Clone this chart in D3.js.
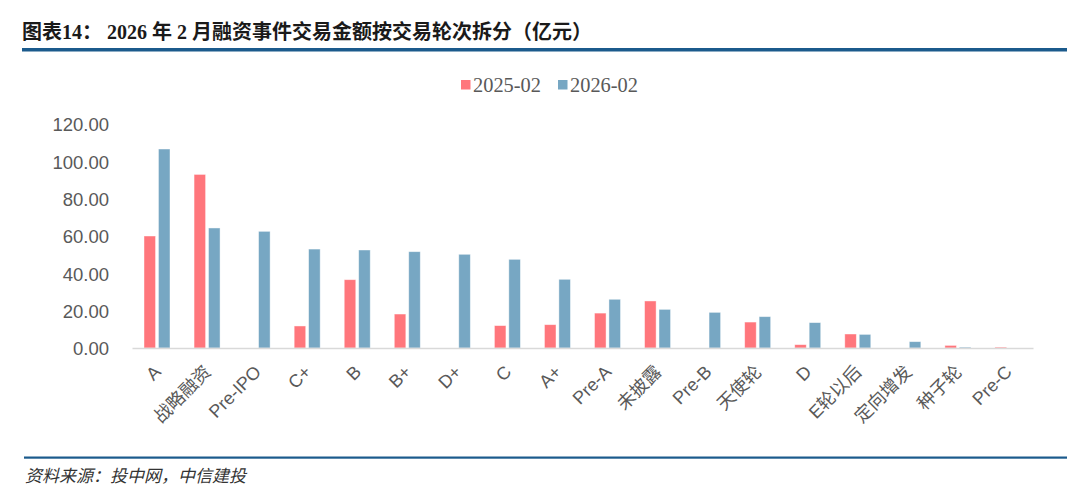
<!DOCTYPE html>
<html>
<head>
<meta charset="utf-8">
<script src="https://cdn.jsdelivr.net/npm/d3@7/dist/d3.min.js"></script>
<style>
  html, body { margin: 0; padding: 0; background: #fff; }
  svg { display: block; }
</style>
</head>
<body>
<svg id="chart" width="1080" height="489"></svg>
<script>
const titleText = "图表14： 2026 年 2 月融资事件交易金额按交易轮次拆分（亿元）";
const sourceText = "资料来源：投中网，中信建投";
const categories = ["A", "战略融资", "Pre-IPO", "C+", "B", "B+", "D+", "C", "A+", "Pre-A", "未披露", "Pre-B", "天使轮", "D", "E轮以后", "定向增发", "种子轮", "Pre-C"];
const seriesNames = ["2025-02", "2026-02"];
const values2025 = [60.0, 93.0, 0, 11.8, 36.6, 18.2, 0, 12.0, 12.5, 18.7, 25.2, 0, 13.9, 1.8, 7.5, 0, 1.4, 0.5];
const values2026 = [106.6, 64.3, 62.5, 53.0, 52.5, 51.6, 50.2, 47.5, 36.8, 26.1, 20.7, 19.1, 16.8, 13.6, 7.3, 3.4, 0.5, 0];
const yTicks = [0, 20, 40, 60, 80, 100, 120];
const colors = ["#FF767C", "#77A7C3"];

const svg = d3.select("#chart");

// Title
svg.append("text")
  .attr("x", 22).attr("y", 39)
  .attr("font-family", "'Liberation Serif', 'Noto Sans CJK SC', serif")
  .attr("font-weight", "bold")
  .attr("font-size", 20)
  .attr("fill", "#1a1a1a")
  .text(titleText);

svg.append("rect").attr("x", 22).attr("y", 48).attr("width", 1045).attr("height", 3.5).attr("fill", "#1B5A8C");
svg.append("rect").attr("x", 24).attr("y", 456.5).attr("width", 1043).attr("height", 2.2).attr("fill", "#1B5A8C");

svg.append("text")
  .attr("x", 25).attr("y", 482)
  .attr("font-family", "'Noto Sans CJK SC', sans-serif")
  .attr("font-style", "italic")
  .attr("font-size", 17)
  .attr("fill", "#333")
  .text(sourceText);

// Scales
const x0 = d3.scaleBand().domain(categories).range([132, 1033]).padding(0);
const x1 = d3.scaleBand().domain(seriesNames).range([12, 38]).paddingInner(0.2);
const y = d3.scaleLinear().domain([0, 120]).range([348, 124]);

// Y axis labels
const yAxis = d3.axisLeft(y).tickValues(yTicks).tickFormat(d3.format(".2f")).tickSize(0).tickPadding(0);
const yG = svg.append("g").attr("transform", "translate(109,0)").call(yAxis);
yG.select(".domain").remove();
yG.selectAll("text")
  .attr("font-family", "'Liberation Sans', Arial, sans-serif")
  .attr("font-size", 18.5)
  .attr("fill", "#595959")
  .attr("dy", "0.36em");

// Bars
const data = categories.map((c, i) => ({ cat: c, vals: [values2025[i], values2026[i]] }));
const groups = svg.append("g").selectAll("g").data(data).join("g")
  .attr("transform", d => `translate(${x0(d.cat)},0)`);
groups.selectAll("rect")
  .data(d => d.vals.map((v, j) => ({ key: seriesNames[j], v, j })))
  .join("rect")
  .attr("x", d => x1(d.key))
  .attr("width", x1.bandwidth())
  .attr("y", d => y(d.v))
  .attr("height", d => y(0) - y(d.v))
  .attr("fill", d => colors[d.j])
  .attr("stroke", "rgba(255,255,255,0.55)")
  .attr("stroke-width", 0.8);

// X axis line
const xAxis = d3.axisBottom(x0).tickSize(0).tickFormat("");
const xG = svg.append("g").attr("transform", "translate(0,348)").call(xAxis);
xG.select(".domain").attr("stroke", "#D9D9D9").attr("stroke-width", 1.6);

// X labels
svg.append("g").selectAll("text").data(categories).join("text")
  .attr("transform", d => `translate(${x0(d) + x0.bandwidth() / 2 + 5},373) rotate(-45)`)
  .attr("text-anchor", "end")
  .attr("font-family", "'Liberation Sans', Arial, 'Noto Sans CJK SC', sans-serif")
  .attr("font-size", 18)
  .attr("fill", "#595959")
  .text(d => d);

// Legend
const legendX = [461, 558];
const lg = svg.append("g");
seriesNames.forEach((s, i) => {
  lg.append("rect").attr("x", legendX[i]).attr("y", 80).attr("width", 9.5).attr("height", 9.5).attr("fill", colors[i]);
  lg.append("text")
    .attr("x", legendX[i] + 12).attr("y", 92)
    .attr("font-family", "'Liberation Serif', serif")
    .attr("font-size", 20)
    .attr("fill", "#595959")
    .attr("textLength", 68)
    .attr("lengthAdjust", "spacingAndGlyphs")
    .text(s);
});
</script>
</body>
</html>
